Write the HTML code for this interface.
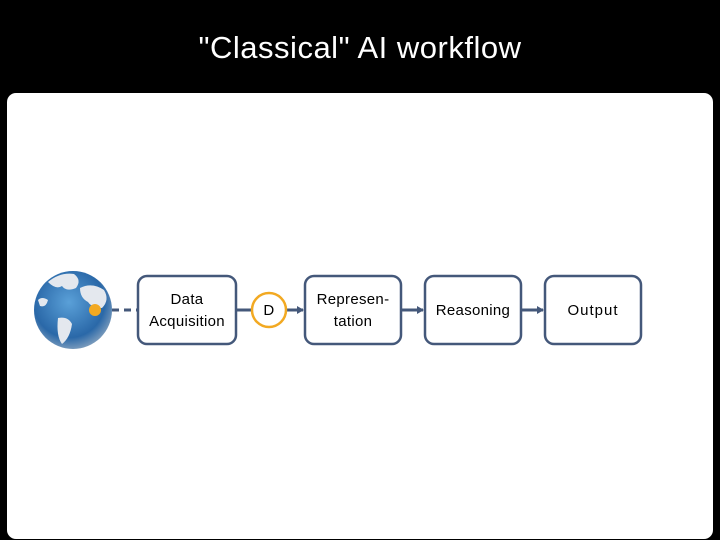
<!DOCTYPE html>
<html><head><meta charset="utf-8"><style>
html,body{margin:0;padding:0;background:#000;width:720px;height:540px;overflow:hidden}
</style></head><body>
<svg width="720" height="540" xmlns="http://www.w3.org/2000/svg" font-family="Liberation Sans, sans-serif">
<defs>
<radialGradient id="g" cx="0.45" cy="0.4" r="0.7">
<stop offset="0" stop-color="#5aa0d8"/><stop offset="0.65" stop-color="#2a68a8"/><stop offset="1" stop-color="#a8b8c8"/>
</radialGradient>
<marker id="a" markerUnits="userSpaceOnUse" markerWidth="7" markerHeight="8" refX="6" refY="4" orient="auto"><path d="M0,0 L7,4 L0,8 z" fill="#44587a"/></marker>
</defs>
<rect width="720" height="540" fill="#000"/>
<text x="360" y="58" fill="#fff" font-size="31" text-anchor="middle" letter-spacing="0.5">"Classical" AI workflow</text>
<rect x="7" y="93" width="706" height="446" rx="9" fill="#fff"/>
<!-- globe -->
<circle cx="73" cy="310" r="39" fill="url(#g)"/>
<path d="M48,282 q12,-10 26,-8 q8,6 2,14 q-10,4 -14,-2 q-6,4 -14,-4z M38,300 q4,-4 10,0 q-2,8 -8,6z M58,318 q10,-2 14,6 q-2,14 -10,20 q-6,-8 -4,-26z M80,288 q12,-6 24,2 q6,10 -2,18 q-10,0 -14,-6 q-8,-4 -8,-14z" fill="#e4e8ee"/>
<circle cx="95" cy="310" r="6" fill="#f2a922"/>
<line x1="112" y1="310" x2="137" y2="310" stroke="#44587a" stroke-width="3" stroke-dasharray="7,5"/>
<g fill="#fff" stroke="#44587a" stroke-width="2.5">
<rect x="138" y="276" width="98" height="68" rx="9"/>
<rect x="305" y="276" width="96" height="68" rx="9"/>
<rect x="425" y="276" width="96" height="68" rx="9"/>
<rect x="545" y="276" width="96" height="68" rx="9"/>
</g>
<g stroke="#44587a" stroke-width="3">
<line x1="237" y1="310" x2="252" y2="310"/>
<line x1="286" y1="310" x2="303" y2="310" marker-end="url(#a)"/>
<line x1="402" y1="310" x2="423" y2="310" marker-end="url(#a)"/>
<line x1="522" y1="310" x2="543" y2="310" marker-end="url(#a)"/>
</g>
<circle cx="269" cy="310" r="17" fill="#fff" stroke="#f2a922" stroke-width="2.5"/>
<g font-size="15" fill="#000" text-anchor="middle" letter-spacing="0.3">
<text x="187" y="304">Data</text><text x="187" y="326">Acquisition</text>
<text x="269" y="315">D</text>
<text x="353" y="304">Represen-</text><text x="353" y="326">tation</text>
<text x="473" y="315">Reasoning</text>
<text x="593" y="315" letter-spacing="1">Output</text>
</g>
</svg>
</body></html>
